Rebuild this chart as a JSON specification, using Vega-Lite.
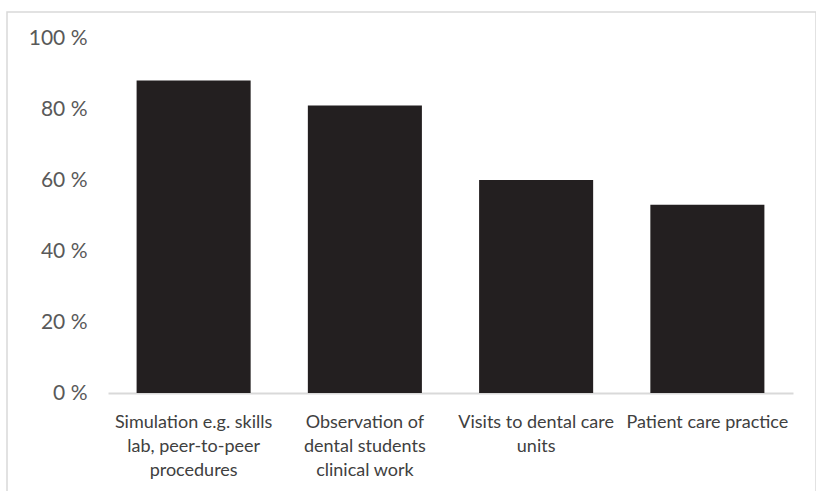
{
  "$schema": "https://vega.github.io/schema/vega-lite/v6.json",
  "autosize": {"type": "none"},
  "padding": {"left": 7, "top": 12, "right": 0, "bottom": 0},
  "width": 809,
  "height": 480,
  "background": "white",
  "data": {"values": [
    {"method": "Simulation e.g. skills lab, peer-to-peer procedures", "pct": 88},
    {"method": "Observation of dental students clinical work", "pct": 81},
    {"method": "Visits to dental care units", "pct": 60},
    {"method": "Patient care practice", "pct": 53}
  ]},
  "mark": {"type": "bar", "color": "#231f20"},
  "encoding": {
    "x": {
      "field": "method", "type": "nominal", "sort": null,
      "scale": {"range": [101, 786], "paddingInner": 0.334, "paddingOuter": 0.167},
      "axis": {
        "title": null, "labelAngle": 0, "offset": -99, "ticks": false,
        "domainColor": "#d9d9d9", "domainWidth": 2,
        "labelFont": "Lato", "labelFontSize": 18, "labelColor": "#404040",
        "labelPadding": 20, "labelLineHeight": 24, "labelBaseline": "top", "labelLimit": 220,
        "labelExpr": "datum.value == 'Simulation e.g. skills lab, peer-to-peer procedures' ? ['Simulation e.g. skills', 'lab, peer-to-peer', 'procedures'] : datum.value == 'Observation of dental students clinical work' ? ['Observation of', 'dental students', 'clinical work'] : datum.value == 'Visits to dental care units' ? ['Visits to dental care', 'units'] : datum.value"
      }
    },
    "y": {
      "field": "pct", "type": "quantitative",
      "scale": {"domain": [0, 100], "range": [381, 26], "nice": false},
      "axis": {
        "title": null, "values": [0, 20, 40, 60, 80, 100], "grid": false,
        "domain": false, "ticks": false, "offset": -90, "labelPadding": 10,
        "labelFont": "Lato", "labelFontSize": 21, "labelColor": "#595959",
        "labelExpr": "datum.value + ' %'"
      }
    }
  },
  "config": {"view": {"stroke": "#d9d9d9", "strokeWidth": 1.5}}
}
